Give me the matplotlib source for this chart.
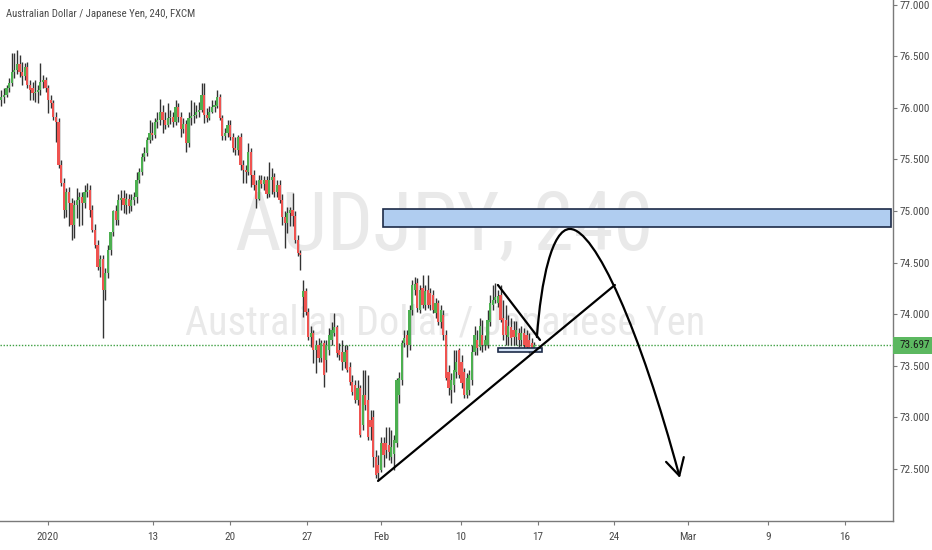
import matplotlib
matplotlib.use("Agg")
import matplotlib.pyplot as plt
from matplotlib import font_manager
from matplotlib.patches import Rectangle, FancyArrowPatch
from matplotlib.path import Path
from matplotlib.transforms import blended_transform_factory
import numpy as np

# ---------------- data (AUDJPY, 4h candles) ----------------
opens = [
    76.08, 76.10, 76.12, 76.19, 76.24, 76.35, 76.37, 76.42, 76.35, 76.31,
    76.40, 76.22, 76.19, 76.14, 76.15, 76.17, 76.25, 76.27, 76.19, 76.08,
    76.05, 75.91, 75.86, 75.45, 75.27, 75.01, 75.18, 75.08, 74.86, 75.06,
    75.11, 75.14, 75.08, 75.18, 75.20, 75.01, 74.82, 74.67, 74.46, 74.53,
    74.23, 74.40, 74.62, 74.80, 75.00, 74.91, 75.11, 75.13, 75.06, 75.12,
    75.05, 75.11, 75.14, 75.30, 75.38, 75.52, 75.56, 75.69, 75.76, 75.74,
    75.86, 75.88, 75.96, 75.88, 75.83, 75.90, 75.91, 75.86, 76.01, 75.91,
    75.79, 75.84, 75.66, 75.90, 75.92, 75.93, 75.96, 75.98, 76.12, 75.93,
    75.90, 75.96, 76.01, 76.02, 76.10, 75.90, 75.73, 75.76, 75.83, 75.72,
    75.61, 75.59, 75.72, 75.45, 75.40, 75.38, 75.57, 75.35, 75.25, 75.12,
    75.30, 75.26, 75.30, 75.16, 75.30, 75.33, 75.18, 75.25, 75.11, 74.94,
    74.88, 74.98, 75.01, 74.95, 74.72, 74.59, 74.17, 74.22, 74.02, 73.78,
    73.82, 73.65, 73.70, 73.58, 73.72, 73.56, 73.65, 73.75, 73.82, 73.88,
    73.65, 73.63, 73.54, 73.65, 73.49, 73.34, 73.31, 73.17, 73.28, 72.93,
    73.22, 73.17, 72.97, 73.00, 72.62, 72.54, 72.49, 72.75, 72.75, 72.73,
    72.62, 72.65, 72.75, 73.22, 73.36, 73.72, 73.80, 73.70, 74.04, 74.23,
    74.30, 74.04, 74.25, 74.09, 74.23, 74.21, 74.19, 74.01, 74.11, 73.92,
    73.99, 73.80, 73.44, 73.27, 73.31, 73.44, 73.65, 73.54, 73.44, 73.22,
    73.27, 73.36, 73.63, 73.75, 73.68, 73.80, 73.70, 73.70, 73.92, 74.09,
    74.14, 74.11, 74.19, 73.96, 73.94, 73.78, 73.88, 73.85, 73.78, 73.82,
    73.75, 73.82, 73.80, 73.75, 73.72, 73.67,
]
highs = [
    76.17, 76.19, 76.22, 76.29, 76.53, 76.53, 76.56, 76.51, 76.44, 76.43,
    76.44, 76.27, 76.25, 76.27, 76.22, 76.43, 76.32, 76.30, 76.22, 76.12,
    76.08, 75.96, 75.90, 75.49, 75.32, 75.22, 75.23, 75.13, 75.11, 75.22,
    75.18, 75.18, 75.25, 75.27, 75.25, 75.06, 74.87, 74.72, 74.57, 74.57,
    74.45, 74.67, 74.80, 75.01, 75.06, 75.16, 75.20, 75.20, 75.17, 75.16,
    75.16, 75.18, 75.38, 75.42, 75.56, 75.62, 75.72, 75.88, 75.86, 75.90,
    75.96, 76.09, 76.03, 75.96, 76.05, 75.98, 75.96, 76.08, 76.05, 75.96,
    75.90, 75.88, 75.96, 76.08, 76.06, 76.03, 76.06, 76.24, 76.24, 76.00,
    76.02, 76.08, 76.08, 76.17, 76.13, 75.93, 75.80, 75.88, 75.88, 75.76,
    75.72, 75.74, 75.76, 75.49, 75.45, 75.66, 75.61, 75.40, 75.30, 75.35,
    75.35, 75.34, 75.34, 75.47, 75.42, 75.37, 75.30, 75.30, 75.16, 75.00,
    75.04, 75.04, 75.17, 75.00, 74.77, 74.62, 74.33, 74.25, 74.06, 73.89,
    73.85, 73.75, 73.77, 73.75, 73.75, 73.75, 73.87, 73.92, 74.01, 73.90,
    73.72, 73.75, 73.70, 73.70, 73.54, 73.41, 73.36, 73.36, 73.31, 73.46,
    73.46, 73.41, 73.07, 73.07, 72.68, 72.64, 72.81, 72.81, 72.91, 72.91,
    72.88, 72.83, 73.38, 73.44, 73.75, 73.85, 73.85, 74.09, 74.33, 74.36,
    74.35, 74.28, 74.38, 74.28, 74.38, 74.25, 74.23, 74.16, 74.14, 74.09,
    74.04, 73.85, 73.51, 73.43, 73.65, 73.65, 73.67, 73.60, 73.48, 73.43,
    73.46, 73.70, 73.89, 73.85, 73.96, 73.94, 73.80, 74.04, 74.19, 74.28,
    74.30, 74.23, 74.28, 74.14, 74.09, 73.99, 73.96, 73.93, 73.93, 73.87,
    73.89, 73.87, 73.85, 73.82, 73.77, 73.73,
]
lows = [
    76.02, 76.05, 76.10, 76.15, 76.21, 76.29, 76.33, 76.30, 76.22, 76.27,
    76.19, 76.08, 76.08, 76.06, 76.05, 76.12, 76.19, 76.15, 75.95, 76.00,
    75.88, 75.67, 75.42, 75.24, 74.93, 74.94, 74.85, 74.72, 74.74, 74.93,
    74.85, 74.86, 75.03, 75.14, 74.94, 74.80, 74.64, 74.43, 74.36, 73.77,
    74.14, 74.35, 74.57, 74.76, 74.86, 74.86, 75.01, 74.98, 74.97, 74.98,
    75.00, 75.06, 75.08, 75.27, 75.35, 75.48, 75.53, 75.66, 75.69, 75.71,
    75.80, 75.83, 75.76, 75.79, 75.81, 75.84, 75.81, 75.83, 75.86, 75.72,
    75.76, 75.57, 75.62, 75.83, 75.85, 75.90, 75.91, 75.96, 75.85, 75.86,
    75.88, 75.95, 75.96, 76.00, 75.88, 75.69, 75.69, 75.72, 75.69, 75.57,
    75.54, 75.54, 75.40, 75.27, 75.27, 75.35, 75.23, 75.20, 75.03, 75.11,
    75.22, 75.20, 75.13, 75.14, 75.16, 75.14, 75.14, 75.08, 74.86, 74.64,
    74.79, 74.85, 74.85, 74.69, 74.56, 74.43, 73.97, 73.99, 73.75, 73.68,
    73.53, 73.43, 73.54, 73.54, 73.29, 73.44, 73.60, 73.70, 73.79, 73.59,
    73.56, 73.46, 73.48, 73.44, 73.31, 73.22, 73.14, 73.12, 72.81, 72.88,
    73.07, 72.78, 72.78, 72.52, 72.41, 72.39, 72.47, 72.52, 72.61, 72.59,
    72.56, 72.49, 72.71, 73.14, 73.31, 73.68, 73.59, 73.65, 73.99, 74.19,
    74.02, 74.01, 74.06, 74.04, 74.06, 74.04, 74.01, 73.96, 73.90, 73.87,
    73.75, 73.36, 73.22, 73.14, 73.25, 73.38, 73.38, 73.28, 73.19, 73.19,
    73.22, 73.31, 73.60, 73.60, 73.65, 73.63, 73.65, 73.67, 73.89, 74.04,
    74.11, 74.07, 73.92, 73.75, 73.70, 73.70, 73.70, 73.70, 73.70, 73.68,
    73.69, 73.67, 73.65, 73.62, 73.63, 73.65,
]
closes = [
    76.10, 76.12, 76.19, 76.24, 76.35, 76.37, 76.42, 76.35, 76.31, 76.40,
    76.22, 76.17, 76.14, 76.15, 76.17, 76.25, 76.27, 76.19, 76.08, 76.05,
    75.91, 75.86, 75.45, 75.27, 75.01, 75.18, 75.08, 74.86, 75.06, 75.11,
    75.14, 75.08, 75.18, 75.20, 75.01, 74.82, 74.67, 74.46, 74.53, 74.23,
    74.40, 74.62, 74.80, 75.00, 74.91, 75.11, 75.13, 75.06, 75.12, 75.05,
    75.11, 75.14, 75.30, 75.38, 75.52, 75.56, 75.69, 75.76, 75.74, 75.86,
    75.88, 75.96, 75.88, 75.83, 75.90, 75.91, 75.86, 76.01, 75.91, 75.79,
    75.84, 75.66, 75.90, 75.92, 75.93, 75.96, 75.98, 76.12, 75.93, 75.90,
    75.96, 76.01, 76.02, 76.10, 75.90, 75.73, 75.76, 75.83, 75.72, 75.61,
    75.59, 75.72, 75.45, 75.40, 75.38, 75.57, 75.35, 75.25, 75.12, 75.30,
    75.26, 75.30, 75.16, 75.30, 75.33, 75.18, 75.25, 75.11, 74.94, 74.88,
    74.98, 75.01, 74.95, 74.72, 74.59, 74.57, 74.22, 74.02, 73.78, 73.82,
    73.65, 73.70, 73.58, 73.72, 73.41, 73.70, 73.80, 73.85, 73.88, 73.62,
    73.60, 73.54, 73.63, 73.46, 73.34, 73.25, 73.17, 73.28, 72.83, 73.22,
    73.12, 72.81, 72.91, 72.62, 72.44, 72.46, 72.75, 72.64, 72.68, 72.66,
    72.71, 72.78, 73.36, 73.38, 73.72, 73.77, 73.70, 74.04, 74.28, 74.29,
    74.06, 74.23, 74.09, 74.22, 74.09, 74.09, 74.04, 74.11, 73.92, 74.04,
    73.80, 73.38, 73.28, 73.36, 73.46, 73.54, 73.41, 73.33, 73.22, 73.38,
    73.41, 73.63, 73.80, 73.67, 73.89, 73.70, 73.75, 73.94, 74.11, 74.14,
    74.17, 74.18, 73.94, 73.80, 73.80, 73.89, 73.77, 73.78, 73.85, 73.75,
    73.82, 73.70, 73.68, 73.65, 73.65, 73.697,
]
last_price = 73.697

date_labels = ["2020", "13", "20", "27", "Feb", "10", "17", "24", "Mar", "9", "16"]
date_label_bars = [17.8, 58.3, 87.8, 117.6, 146.0, 176.8, 206.4, 235.7, 264.1, 294.9, 324.5]
price_ticks = [72.5, 73.0, 73.5, 74.0, 74.5, 75.0, 75.5, 76.0, 76.5, 77.0]

title_text = "Australian Dollar / Japanese Yen, 240, FXCM"
watermark_big = "AUDJPY, 240"
watermark_small = "Australian Dollar / Japanese Yen"

# drawings (bar index, price)
zone_bars = [146.9, 342.2]
zone_prices = [74.842, 75.017]
base_box_bars = [191.0, 208.0]
base_box_prices = [73.629, 73.668]
trend_up_bars = [144.9, 236.0]
trend_up_prices = [72.384, 74.283]
trend_down_bars = [191.0, 207.2]
trend_down_prices = [74.283, 73.750]
proj_bars = [206.0, 207.6, 211.8, 218.7, 228.4, 245.7, 261.0]
proj_prices = [73.779, 74.331, 74.826, 74.826, 74.826, 73.847, 72.413]

# ---------------- fonts ----------------
ttf = font_manager.fontManager.ttflist
names = {f.name for f in ttf}
font_family = None
stretch = "normal"
for cand in ["Liberation Sans Narrow", "Roboto Condensed", "Open Sans Condensed", "Arial Narrow"]:
    if cand in names:
        font_family = cand
        break
if font_family is None:
    if any(f.name == "DejaVu Sans" and str(f.stretch) == "condensed" for f in ttf):
        font_family = "DejaVu Sans"
        stretch = "condensed"
    else:
        font_family = "Roboto" if "Roboto" in names else "DejaVu Sans"
plt.rcParams["font.family"] = [font_family, "DejaVu Sans"]
plt.rcParams["font.stretch"] = stretch

GREEN = "#4caf50"
RED = "#ef5350"
WICK = "#333333"
AXC = "#7a7a7a"
TXT = "#4a4a4a"

W, H = 932, 550
fig = plt.figure(figsize=(W / 100, H / 100), dpi=100)
fig.patch.set_facecolor("white")
ax_left, ax_right, ax_bottom_px = 0, 893, 521
ax = fig.add_axes([ax_left / W, (H - ax_bottom_px) / H, (ax_right - ax_left) / W, ax_bottom_px / H])
ax.set_facecolor("white")

x = np.arange(len(closes))
o = np.array(opens)
c = np.array(closes)
h = np.array(highs)
l = np.array(lows)
up = c >= o
colors = np.where(up, GREEN, RED)

ax.vlines(x, l, h, colors=WICK, lw=1.0, zorder=3)
body = np.maximum(np.abs(c - o), 0.015)
ax.bar(x, body, bottom=np.minimum(o, c), width=0.8, color=colors, lw=0, zorder=4)

ax.set_xlim(-0.5, 342.96)
ax.set_ylim(71.996, 77.0446)

# watermarks
wm1 = ax.text(0.497, 0.520, watermark_big, transform=ax.transAxes, ha="center", va="baseline",
              fontsize=64, color="#e9e9e9", zorder=0)
wm2 = ax.text(0.499, 0.357, watermark_small, transform=ax.transAxes, ha="center", va="baseline",
              fontsize=30, color="#e9e9e9", zorder=0)

# last price dotted line
ax.axhline(last_price, color="#3fa043", lw=1.0, ls=(0, (1, 1.2)), zorder=2)

# zone rectangle
ax.add_patch(Rectangle((zone_bars[0], zone_prices[0]), zone_bars[1] - zone_bars[0],
                       zone_prices[1] - zone_prices[0], facecolor="#b0cdf0",
                       edgecolor="#1d2b48", lw=1.2, zorder=5))
ax.add_patch(Rectangle((base_box_bars[0], base_box_prices[0]), base_box_bars[1] - base_box_bars[0],
                       base_box_prices[1] - base_box_prices[0], facecolor="#d4e3f6",
                       edgecolor="#1d2b48", lw=1.2, zorder=6))

ax.plot(trend_up_bars, trend_up_prices, color="black", lw=1.6, zorder=7, solid_capstyle="round")
ax.plot(trend_down_bars, trend_down_prices, color="black", lw=1.6, zorder=7, solid_capstyle="round")

codes = [Path.MOVETO, Path.CURVE4, Path.CURVE4, Path.CURVE4, Path.CURVE4, Path.CURVE4, Path.CURVE4]
proj_path = Path(np.column_stack([proj_bars, proj_prices]), codes)
arrow = FancyArrowPatch(path=proj_path, arrowstyle="->,head_length=0.55,head_width=0.3",
                        mutation_scale=22, lw=1.6, color="black", zorder=7)
ax.add_patch(arrow)

# axes styling
for s in ["top", "left"]:
    ax.spines[s].set_visible(False)
for s in ["right", "bottom"]:
    ax.spines[s].set_color(AXC)
    ax.spines[s].set_linewidth(1.0)
ax.yaxis.tick_right()
ax.set_yticks(price_ticks)
ax.set_yticklabels([f"{p:.3f}" for p in price_ticks])
ax.tick_params(axis="y", length=3, width=0.8, color=AXC, pad=2, labelsize=8, labelcolor=TXT)
ax.set_xticks(date_label_bars)
ax.set_xticklabels(date_labels)
ax.tick_params(axis="x", length=3, width=0.8, color=AXC, pad=5, labelsize=8, labelcolor=TXT)

# last price tag
trans = blended_transform_factory(ax.transAxes, ax.transData)
tag_w = (W - ax_right) / (ax_right - ax_left)
ax.add_patch(Rectangle((1.0, last_price - 0.082), tag_w, 0.164, transform=trans,
                       facecolor="#5cb860", edgecolor="none", clip_on=False, zorder=10))
ax.text(1.0 + 7 / (ax_right - ax_left), last_price, f"{last_price:.3f}", transform=trans,
        ha="left", va="center", fontsize=8, color="#1a1a1a", clip_on=False, zorder=11)

# title
title = fig.text(6 / W, 1 - 17 / H, title_text, ha="left", va="baseline", fontsize=8, color=TXT)

# fit text widths to the reference
fig.canvas.draw()
r = fig.canvas.get_renderer()
def fit(t, target_w, mix=1.0):
    w = t.get_window_extent(renderer=r).width
    fs = t.get_fontsize()
    t.set_fontsize(fs * (target_w / w) ** mix)
fit(title, 190)
fit(wm1, 392, 0.6)
fit(wm2, 515, 0.8)

fig.savefig("out.png", dpi=100, facecolor="white")
